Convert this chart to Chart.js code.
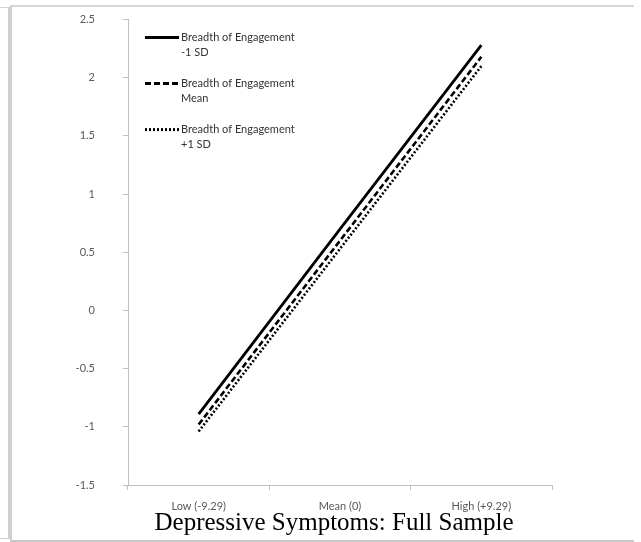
<!DOCTYPE html>
<html>
<head>
<meta charset="utf-8">
<script src="https://cdn.jsdelivr.net/npm/chart.js@4/dist/chart.umd.min.js"></script>
<style>
  html, body { margin: 0; padding: 0; background: #fff; }
  body { width: 641px; height: 542px; position: relative; overflow: hidden; }
  .side { position: absolute; left: 0; top: 7px; width: 8px; height: 530px;
          border-top: 1px solid #d4d4d4; border-right: 2px solid #cfcfcf; border-bottom: 1px solid #cfcfcf; }
  .frame { position: absolute; left: 10px; top: 5px; width: 622px; height: 533px;
           border-top: 2px solid #d6d6d6; border-left: 2px solid #cfcfcf; border-bottom: 2px solid #c8c8c8; }
  /* the y tick padding also pads the top of the plot, so the canvas starts a little higher */
  #wrap { position: absolute; left: 12px; top: -15px; width: 620px; height: 553px; }
</style>
</head>
<body>
<div class="side"></div>
<div class="frame"></div>
<div id="wrap"><canvas id="c"></canvas></div>
<script>
// Predicted values at three levels of depressive symptoms
const categories = ["Low (-9.29)", "Mean (0)", "High (+9.29)"];
const lowBreadth  = [-0.89, 0.70, 2.28];   // Breadth of Engagement -1 SD
const meanBreadth = [-0.98, 0.60, 2.18];   // Breadth of Engagement Mean
const highBreadth = [-1.04, 0.53, 2.10];   // Breadth of Engagement +1 SD
const seriesNames = [
  ["Breadth of Engagement", "-1 SD"],
  ["Breadth of Engagement", "Mean"],
  ["Breadth of Engagement", "+1 SD"]
];
const yTicks = [-1.5, -1, -0.5, 0, 0.5, 1, 1.5, 2, 2.5];
const chartTitle = "Depressive Symptoms: Full Sample";

const styles = [
  { width: 2.8, dash: [] },
  { width: 2.6, dash: [6, 3] },
  { width: 2.6, dash: [2, 2] }
];

// In-plot legend with two-line labels, plus the caption under the category axis
const annotations = {
  id: 'annotations',
  afterDraw(chart) {
    const { ctx, chartArea } = chart;
    ctx.save();
    seriesNames.forEach((lines, i) => {
      const y = chartArea.top + 18 + i * 46;
      const x0 = chartArea.left + 17;
      ctx.beginPath();
      ctx.strokeStyle = '#000';
      ctx.lineWidth = 3;
      ctx.setLineDash(styles[i].dash);
      ctx.moveTo(x0, y);
      ctx.lineTo(x0 + 34, y);
      ctx.stroke();
      ctx.setLineDash([]);
      ctx.fillStyle = '#333';
      ctx.font = '11px Lato';
      ctx.textBaseline = 'middle';
      ctx.textAlign = 'left';
      lines.forEach((t, k) => ctx.fillText(t, x0 + 36, y + k * 15));
    });
    ctx.fillStyle = '#000';
    ctx.font = '25px "Liberation Serif"';
    ctx.textAlign = 'center';
    ctx.textBaseline = 'middle';
    ctx.fillText(chartTitle, (chartArea.left + chartArea.right) / 2 - 6, chartArea.bottom + 38);
    ctx.restore();
  }
};

new Chart(document.getElementById('c'), {
  type: 'line',
  data: {
    labels: categories,
    datasets: [lowBreadth, meanBreadth, highBreadth].map((d, i) => ({
      label: seriesNames[i].join(' '),
      data: d,
      borderColor: '#000',
      borderWidth: styles[i].width,
      borderDash: styles[i].dash,
      pointRadius: 0,
      fill: false,
      tension: 0
    }))
  },
  options: {
    responsive: true,
    maintainAspectRatio: false,
    animation: false,
    layout: { padding: { left: 0, right: 80, top: 13, bottom: 25 } },
    plugins: {
      legend: { display: false },
      tooltip: { enabled: false },
      title: { display: false }
    },
    scales: {
      x: {
        type: 'category',
        offset: true,
        afterFit(scale) { scale.height = 28; },
        grid: { drawOnChartArea: false, drawTicks: true, tickLength: 5, color: '#bfbfbf', offset: true },
        border: { color: '#bfbfbf', width: 1 },
        ticks: { color: '#595959', font: { family: 'Lato', size: 11 }, padding: 10, maxRotation: 0 }
      },
      y: {
        min: -1.5,
        max: 2.5,
        afterBuildTicks(scale) { scale.ticks = yTicks.map(v => ({ value: v })); },
        afterFit(scale) { scale.width = 116; },
        grid: { drawOnChartArea: false, drawTicks: true, tickLength: 5, color: '#bfbfbf' },
        border: { color: '#bfbfbf', width: 1 },
        ticks: { color: '#595959', font: { family: 'Lato', size: 11 }, padding: 28,
                 callback: v => String(v) }
      }
    }
  },
  plugins: [annotations]
});
</script>
</body>
</html>
